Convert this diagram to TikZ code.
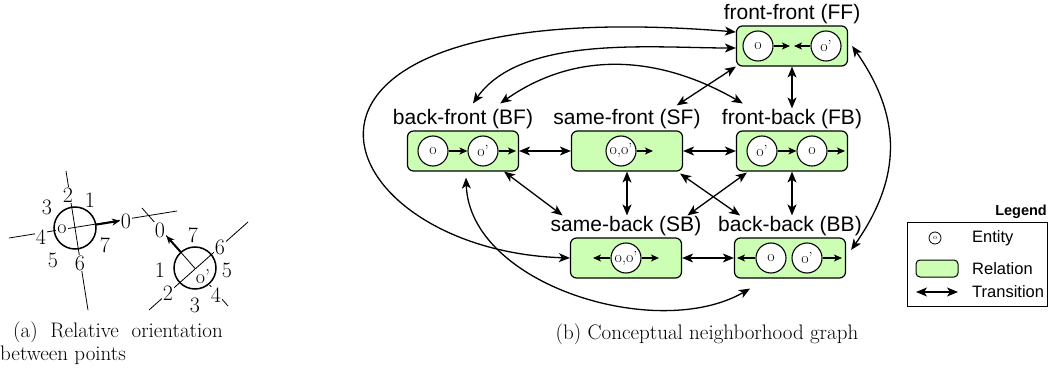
\documentclass[tikz,border=0pt]{standalone}
\usepackage{fontspec}
\setsansfont{Liberation Sans}
\usetikzlibrary{arrows.meta,positioning}

\definecolor{relgreen}{RGB}{204,255,179}

\tikzset{
  relation/.style={draw, line width=1.2pt, rounded corners=6pt, fill=relgreen,
    minimum width=111pt, minimum height=40pt, inner sep=0pt},
  entity/.style={draw, circle, line width=1.1pt, fill=white, minimum size=30pt,
    inner sep=0pt, font=\fontsize{16}{16}\selectfont},
  rellabel/.style={font=\sffamily\fontsize{21}{21}\selectfont, inner sep=1pt},
  trans/.style={line width=1.3pt,
    {Stealth[length=11pt,width=9pt,inset=3pt]}-{Stealth[length=11pt,width=9pt,inset=3pt]}},
  move/.style={line width=1.3pt, -{Stealth[length=8pt,width=7pt,inset=2pt]}},
  digit/.style={font=\fontsize{22}{22}\selectfont, fill=white, inner sep=1pt},
  capt/.style={font=\fontsize{21}{21}\selectfont, inner sep=0pt},
  legtext/.style={font=\sffamily\fontsize{16.5}{16.5}\selectfont, anchor=west, inner sep=0pt},
}

\begin{document}
\begin{tikzpicture}[x=1pt,y=1pt]
  \useasboundingbox (0,0) rectangle (1050,370);

  % (a) relative orientation
  \draw[line width=0.8pt] (9,132) -- (177,159);
  \draw[line width=0.8pt] (66,199) -- (88,60);
  \draw[line width=0.8pt] (149,60) -- (248,148);
  \draw[line width=0.8pt] (228,64) -- (142,162);
  \node[digit] (o0) at (126,149) {0};
  \node[digit] (o1) at (90,170) {1};
  \node[digit] (o2) at (68,175) {2};
  \node[digit] (o3) at (47,163) {3};
  \node[digit] (o4) at (41,133) {4};
  \node[digit] (o5) at (53,110) {5};
  \node[digit] (o6) at (80,107) {6};
  \node[digit] (o7) at (105,125) {7};
  \node[digit, font=\fontsize{20}{20}\selectfont] (o) at (62,141) {o};
  \node[digit] (p0) at (160,140) {0};
  \node[digit] (p1) at (160,100) {1};
  \node[digit] (p2) at (168,77) {2};
  \node[digit] (p3) at (195,65) {3};
  \node[digit] (p4) at (216,75) {4};
  \node[digit] (p5) at (227,100) {5};
  \node[digit] (p6) at (220,123) {6};
  \node[digit] (p7) at (193,135) {7};
  \node[digit, font=\fontsize{20}{20}\selectfont] (p) at (203,93) {o'};
  \draw[line width=1.5pt] (75,142) circle (21pt);
  \draw[line width=1.5pt] (195,102) circle (21pt);
  \draw[line width=2pt, -{Stealth[length=8pt,width=7pt]}] (95.7,145.3) -- (120,149.2);
  \draw[line width=2pt, -{Stealth[length=8pt,width=7pt]}] (181,117.7) -- (166.4,134);

  % (b) relations
  \node[relation] (FF) at (792,324) {};
  \node[relation] (BF) at (463,219) {};
  \node[relation] (SF) at (627,219) {};
  \node[relation] (FB) at (792,219) {};
  \node[relation] (SB) at (626,112) {};
  \node[relation] (BB) at (790,112) {};
  \node[rellabel, above=0pt of FF] (lbFF) {front-front (FF)};
  \node[rellabel, above=0pt of BF] (lbBF) {back-front (BF)};
  \node[rellabel, above=0pt of SF] (lbSF) {same-front (SF)};
  \node[rellabel, above=0pt of FB] (lbFB) {front-back (FB)};
  \node[rellabel, above=0pt of SB] (lbSB) {same-back (SB)};
  \node[rellabel, above=0pt of BB] (lbBB) {back-back (BB)};

  % entities
  \node[entity] (FFo) at (758,324) {o};
  \node[entity] (FFp) at (826,324) {o'};
  \coordinate (FFmidl) at (790,324);
  \coordinate (FFmidr) at (794,324);
  \draw[move] (FFo) -- (FFmidl);
  \draw[move] (FFp) -- (FFmidr);
  \node[entity] (BFo) at (433,219) {o};
  \node[entity] (BFp) at (483,219) {o'};
  \coordinate (BFend) at (516,219);
  \draw[move] (BFo) -- (BFp);
  \draw[move] (BFp) -- (BFend);
  \node[entity] (SFop) at (621,219) {o,o'};
  \coordinate (SFend) at (653,219);
  \draw[move] (SFop) -- (SFend);
  \node[entity] (FBp) at (762,219) {o'};
  \node[entity] (FBo) at (812,219) {o};
  \coordinate (FBend) at (845,219);
  \draw[move] (FBp) -- (FBo);
  \draw[move] (FBo) -- (FBend);
  \node[entity] (SBop) at (626,112) {o,o'};
  \coordinate (SBl) at (593,112);
  \coordinate (SBr) at (659,112);
  \draw[move] (SBop) -- (SBl);
  \draw[move] (SBop) -- (SBr);
  \node[entity] (BBo) at (771,112) {o};
  \node[entity] (BBp) at (807,112) {o'};
  \coordinate (BBl) at (737,112);
  \coordinate (BBr) at (842,112);
  \draw[move] (BBo) -- (BBl);
  \draw[move] (BBp) -- (BBr);

  % transitions
  \draw[trans] (BF) -- (SF);
  \draw[trans] (SF) -- (FB);
  \draw[trans] (SB) -- (BB);
  \draw[trans] (FF) -- (lbFB);
  \draw[trans] (FB.south) -- (FB.south |- lbBB.north);
  \draw[trans] (SF.south) -- (SF.south |- lbSB.north);
  \draw[trans] ([xshift=-15pt]BF.south east) -- ([xshift=13pt]lbSB.north west);
  \draw[trans] ([xshift=-3pt,yshift=-2pt]SF.south east) -- ([xshift=23pt]lbBB.north west);
  \draw[trans] ([xshift=11pt,yshift=-1pt]FB.south west) -- ([xshift=-15pt]lbSB.north east);
  \draw[trans] ([xshift=-25pt,yshift=3pt]lbSF.north east) -- (FF.south west);
  \draw[trans] ([xshift=-34pt,yshift=5pt]lbBF.north east) to[out=35,in=150]
    ([xshift=22pt,yshift=5pt]lbFB.north west);
  \draw[trans] ([xshift=10pt,yshift=5pt]lbBF.north) to[out=55,in=180,looseness=0.8]
    ([yshift=-2pt]FF.west);
  \draw[trans] ([yshift=14pt]FF.west) .. controls (220,380) and (320,120) .. (SB.west);
  \draw[trans] ([xshift=3pt,yshift=-6pt]BF.south) to[out=-88,in=-150,looseness=0.9]
    ([xshift=-40pt,yshift=-10pt]BB.south);
  \draw[trans] ([xshift=4pt]FF.east) to[out=-55,in=55,looseness=1.1]
    ([xshift=5pt,yshift=8pt]BB.east);

  % legend
  \node[font=\sffamily\bfseries\fontsize{14.5}{14.5}\selectfont, anchor=east, inner sep=0pt]
    (legtitle) at (1047,158) {Legend};
  \node[draw, line width=1pt, minimum width=140pt, minimum height=83pt] (legbox) at (977,105.5) {};
  \node[entity, minimum size=12pt, line width=0.8pt, font=\fontsize{7}{7}\selectfont]
    (legent) at (935,132) {o};
  \node[legtext] (legentt) at (972,132) {Entity};
  \node[relation, minimum width=42pt, minimum height=17pt, rounded corners=4pt, line width=1pt]
    (legrel) at (937,101.5) {};
  \node[legtext] (legrelt) at (972,101.5) {Relation};
  \coordinate (legl) at (916,78);
  \coordinate (legr) at (958,78);
  \draw[trans] (legl) -- (legr);
  \node[legtext] (legtrt) at (972,78) {Transition};

  % captions
  \node[capt, anchor=west] (capa) at (13,38) {(a)\ \ Relative\ \ orientation};
  \node[capt, anchor=west] (capa2) at (0,15) {between points};
  \node[capt] (capb) at (707,36) {(b) Conceptual neighborhood graph};
\end{tikzpicture}
\end{document}
